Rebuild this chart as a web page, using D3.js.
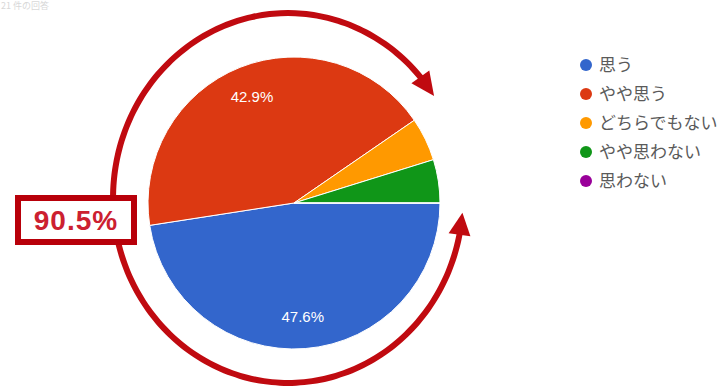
<!DOCTYPE html>
<html>
<head>
<meta charset="utf-8">
<script src="https://cdn.jsdelivr.net/npm/d3@7"></script>
<style>
  html, body { margin: 0; padding: 0; background: #fff; }
  svg { display: block; }
</style>
</head>
<body>
<div id="chart"></div>
<script>
  'use strict';

  // answers (percent of 21 responses)
  const categories = ['思う', 'やや思う', 'どちらでもない', 'やや思わない', '思わない'];
  const values = [47.6, 42.9, 4.8, 4.8, 0];
  const colors = ['#3366cc', '#dc3912', '#ff9900', '#109618', '#990099'];
  const highlight = '90.5%';
  const headerText = '21 件の回答';

  const width = 727, height = 386;
  const cx = 294, cy = 203, radius = 146;

  const svg = d3.select('#chart')
    .append('svg')
    .attr('width', width)
    .attr('height', height);

  // faint header in the top-left corner
  svg.append('text')
    .attr('x', 1)
    .attr('y', 9)
    .attr('font-family', 'Noto Sans CJK JP, sans-serif')
    .attr('font-size', '9px')
    .attr('fill', '#d8d8d8')
    .text(headerText);

  const rows = categories.map((c, i) => ({ name: c, value: values[i], color: colors[i] }));

  const pie = d3.pie()
    .sort(null)
    .value(d => d.value)
    .startAngle(Math.PI / 2)
    .endAngle(Math.PI / 2 + 2 * Math.PI);

  const arc = d3.arc().innerRadius(0).outerRadius(radius);
  const labelArc = d3.arc().innerRadius(radius * 0.78).outerRadius(radius * 0.78);

  const g = svg.append('g').attr('transform', `translate(${cx},${cy})`);

  const slices = pie(rows);

  g.selectAll('path')
    .data(slices)
    .join('path')
    .attr('d', arc)
    .attr('fill', d => d.data.color)
    .attr('stroke', '#fff')
    .attr('stroke-width', 1);

  g.selectAll('text')
    .data(slices.filter(d => d.data.value >= 10))
    .join('text')
    .attr('transform', d => `translate(${labelArc.centroid(d)})`)
    .attr('text-anchor', 'middle')
    .attr('dy', '0.35em')
    .attr('font-family', 'Liberation Sans, Arial, sans-serif')
    .attr('font-size', '15px')
    .attr('fill', '#fff')
    .text(d => d.data.value.toFixed(1) + '%');

  // legend
  const legend = svg.append('g').attr('transform', 'translate(586,65)');
  const item = legend.selectAll('g')
    .data(rows)
    .join('g')
    .attr('transform', (d, i) => `translate(0,${i * 29})`);
  item.append('circle')
    .attr('r', 6)
    .attr('fill', d => d.color);
  item.append('text')
    .attr('x', 13)
    .attr('dy', '0.36em')
    .attr('font-family', 'Noto Sans CJK JP, sans-serif')
    .attr('font-size', '17px')
    .attr('fill', '#5a5a5a')
    .text(d => d.name);

  // red arrows around the pie (elliptical path)
  const ex = 288, ey = 198, rx = 175, ry = 185;
  const arrowColor = '#c00a10';
  const pt = t => [ex + rx * Math.cos(t), ey + ry * Math.sin(t)];
  const line = d3.line().curve(d3.curveBasis);
  const arrows = svg.append('g');

  function drawArrow(t0, tTip, headLen) {
    const dir = tTip > t0 ? 1 : -1;
    const tBase = tTip - dir * headLen;
    const pts = d3.range(0, 61).map(k => pt(t0 + (tBase + dir * 0.02 - t0) * k / 60));
    arrows.append('path')
      .attr('d', line(pts))
      .attr('fill', 'none')
      .attr('stroke', arrowColor)
      .attr('stroke-width', 6);
    const tip = pt(tTip), base = pt(tBase);
    const vx = tip[0] - base[0], vy = tip[1] - base[1];
    const len = Math.hypot(vx, vy);
    const nx = -vy / len * 11, ny = vx / len * 11;
    arrows.append('path')
      .attr('d', `M${tip[0]},${tip[1]}L${base[0] + nx},${base[1] + ny}L${base[0] - nx},${base[1] - ny}Z`)
      .attr('fill', arrowColor);
  }

  drawArrow(Math.PI - 0.06, 5.70, 0.13);
  drawArrow(Math.PI - 0.18, 0.08, 0.12);

  // highlighted total box
  const box = svg.append('g');
  box.append('rect')
    .attr('x', 18)
    .attr('y', 198)
    .attr('width', 116)
    .attr('height', 44)
    .attr('fill', '#fff')
    .attr('stroke', '#b8000a')
    .attr('stroke-width', 6);
  box.append('text')
    .attr('x', 76)
    .attr('y', 220)
    .attr('dy', '0.36em')
    .attr('text-anchor', 'middle')
    .attr('font-family', 'Liberation Sans, Arial, sans-serif')
    .attr('font-weight', 'bold')
    .attr('font-size', '28px')
    .attr('letter-spacing', '1px')
    .attr('fill', '#cc2030')
    .text(highlight);
</script>
</body>
</html>
